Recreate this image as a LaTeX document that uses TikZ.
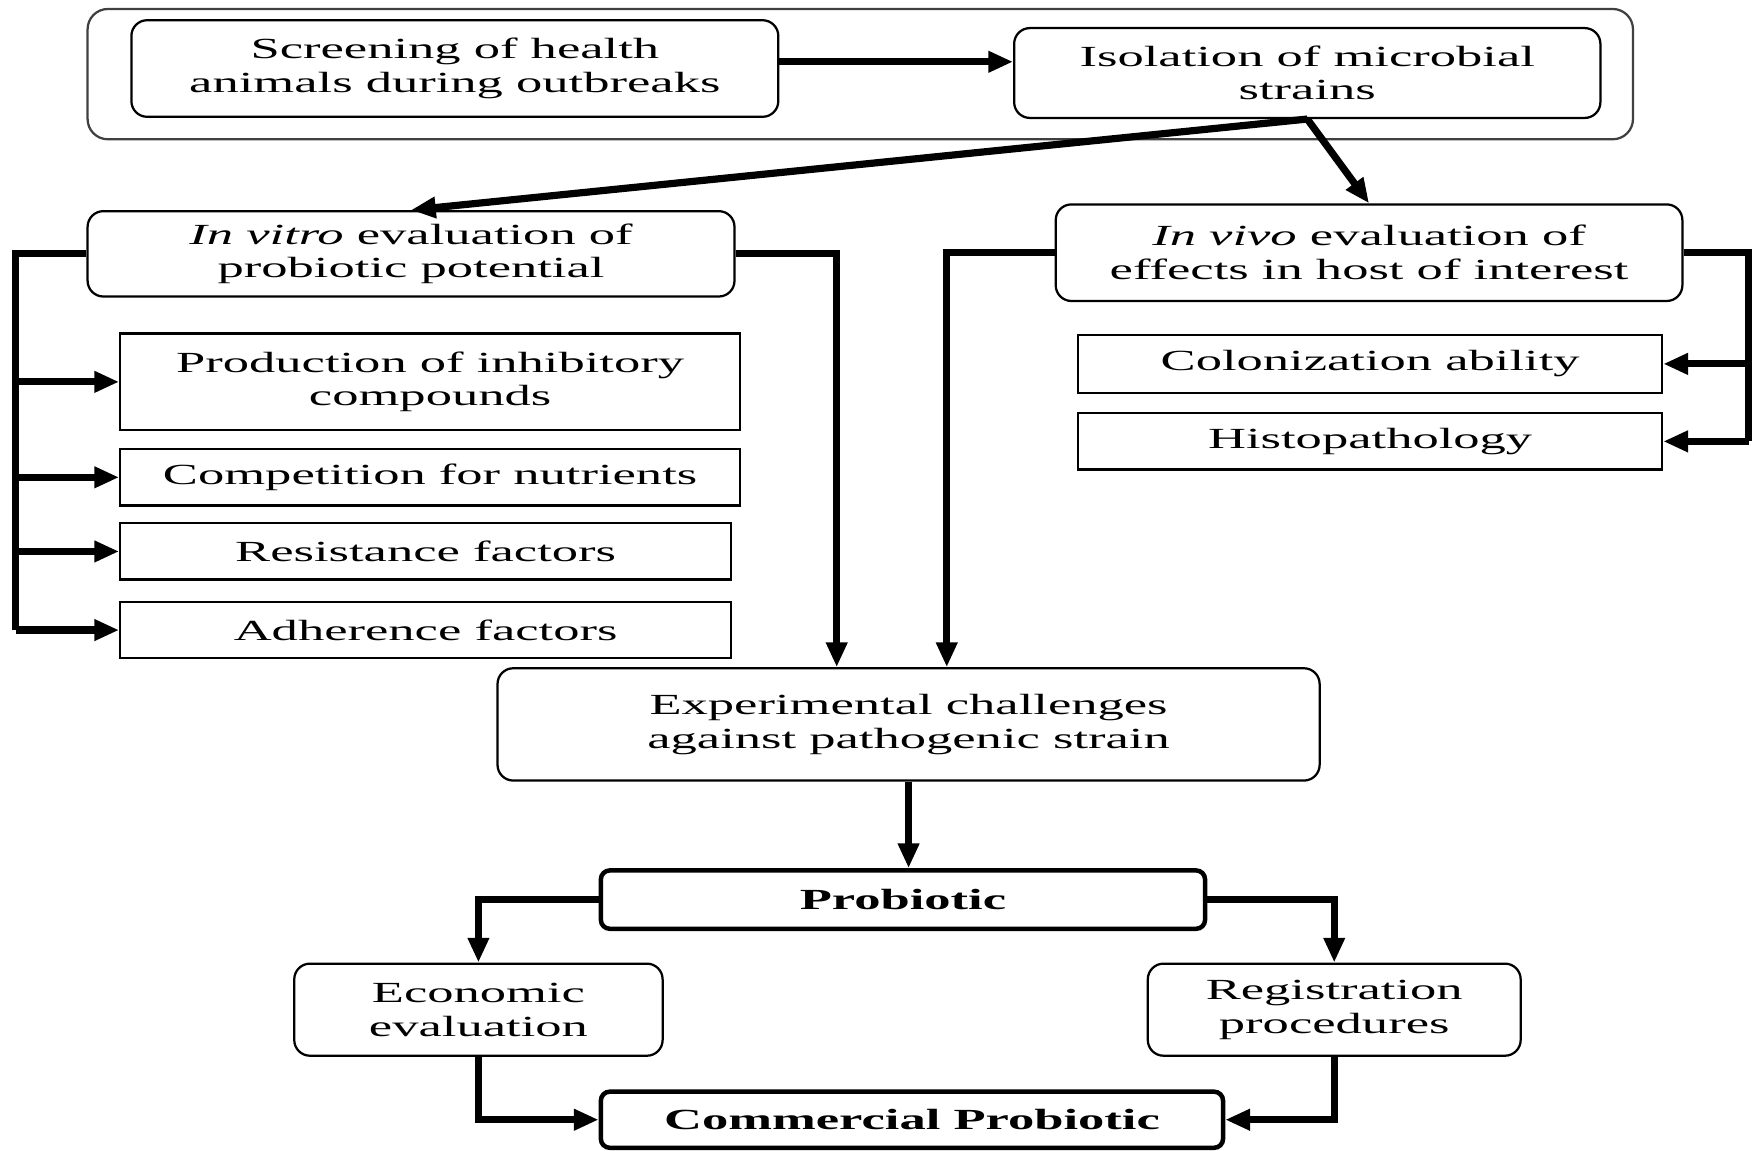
\documentclass[tikz,border=0pt]{standalone}
\usepackage{fontspec}
\setmainfont{Liberation Serif}[FakeStretch=1.8]
\usetikzlibrary{arrows.meta, positioning}

\tikzset{
  every node/.style={font=\fontsize{13}{15}\selectfont, align=center, inner sep=0pt},
  roundbox/.style={draw, line width=1pt, rounded corners=7pt},
  flatbox/.style={draw, line width=1pt},
  boldbox/.style={draw, line width=2pt, rounded corners=4pt, font=\fontsize{13}{15}\selectfont\bfseries},
  link/.style={line width=3.2pt, -{Triangle[length=11pt,width=9pt]}},
  bar/.style={line width=3.2pt},
}

\begin{document}
\begin{tikzpicture}[x=0.5pt, y=-0.5pt]
        \useasboundingbox (0,0) rectangle (1568,1024);

        % top frame
        \node[roundbox, draw=black!75, rounded corners=9pt, minimum width=688pt, minimum height=58pt] (frame) at (766,66) {};
        \node[roundbox, minimum width=288pt, minimum height=43pt] (scr) at (405,61) {Screening of health\\animals during outbreaks};
        \node[roundbox, minimum width=261pt, minimum height=40pt] (iso) at (1164,65) {Isolation of microbial\\strains};

        % evaluation
        \node[roundbox, minimum width=288pt, minimum height=38pt] (vitro) at (366,226) {\textit{In vitro} evaluation of\\probiotic potential};
        \node[roundbox, minimum width=279pt, minimum height=43pt] (vivo) at (1219,225) {\textit{In vivo} evaluation of\\effects in host of interest};

        \node[flatbox, minimum width=276pt, minimum height=43pt] (prod) at (383,340) {Production of inhibitory\\compounds};
        \node[flatbox, minimum width=276pt, minimum height=25pt, below=7.5pt of prod.south west, anchor=north west] (comp) {Competition for nutrients};
        \node[flatbox, minimum width=272pt, minimum height=25pt, below=7pt of comp.south west, anchor=north west] (res) {Resistance factors};
        \node[flatbox, minimum width=272pt, minimum height=25pt, below=9pt of res.south west, anchor=north west] (adh) {Adherence factors};

        \node[flatbox, minimum width=260pt, minimum height=26pt] (colo) at (1220,324) {Colonization ability};
        \node[flatbox, minimum width=260pt, minimum height=25pt, below=8pt of colo] (histo) {Histopathology};

        % lower part
        \node[roundbox, minimum width=366pt, minimum height=50pt] (exp) at (809,645) {Experimental challenges\\against pathogenic strain};
        \node[boldbox, minimum width=269pt, minimum height=26pt] (prob) at (804,801) {Probiotic};
        \node[roundbox, minimum width=164pt, minimum height=41pt] (econ) at (426,899) {Economic\\evaluation};
        \node[roundbox, minimum width=166pt, minimum height=41pt] (reg) at (1188,899) {Registration\\procedures};
        \node[boldbox, minimum width=277pt, minimum height=25pt] (comm) at (812,997) {Commercial Probiotic};

        \coordinate (lb) at (14,226);
        \coordinate (rb) at (1557,225);

        \draw[link] (scr.east |- 0,55) -- (iso.west |- 0,55);
        \draw[link] (iso.south) -- (vitro.north);
        \draw[link] (iso.south) -- (vivo.north);

        % in vitro branches
        \draw[bar] (vitro.west) -- (lb) -- (lb |- adh.west);
        \foreach \b in {prod, comp, res, adh}
            \draw[link] (lb |- \b.west) -- (\b.west);

        % in vivo branches
        \draw[bar] (vivo.east) -- (rb) -- (rb |- histo.east);
        \foreach \b in {colo, histo}
            \draw[link] (rb |- \b.east) -- (\b.east);

        \draw[link] (vitro.east) -| ([xshift=-32pt]exp.north);
        \draw[link] (vivo.west) -| ([xshift=17pt]exp.north);
        \draw[link] (exp.south) -- (exp.south |- prob.north);
        \draw[link] (prob.west) -| (econ.north);
        \draw[link] (prob.east) -| (reg.north);
        \draw[link] (econ.south) |- (comm.west);
        \draw[link] (reg.south) |- (comm.east);
\end{tikzpicture}
\end{document}
